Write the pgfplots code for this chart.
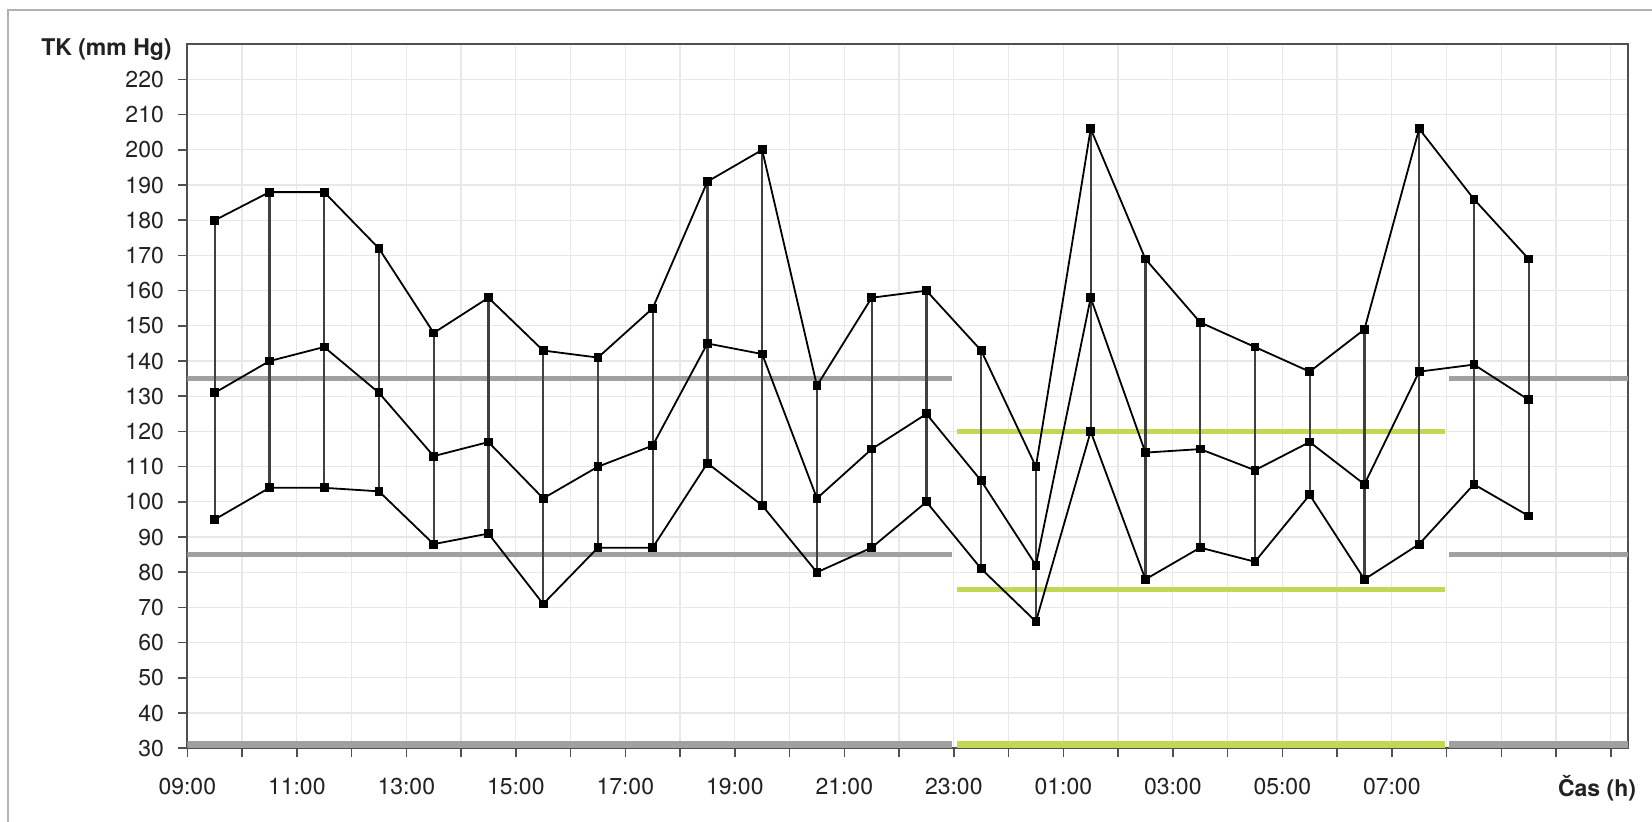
\documentclass[border=0pt]{standalone}
\usepackage{pgfplots}
\usepackage{pgfplotstable}
\pgfplotsset{compat=1.18}
\usepackage{fontspec}
\setmainfont{TeX Gyre Heros}
\definecolor{refgray}{HTML}{A0A0A0}
\definecolor{refgreen}{HTML}{C3D752}
\definecolor{gridc}{HTML}{E8E8E8}
\definecolor{axc}{HTML}{505050}
\definecolor{txt}{HTML}{222222}
\pgfplotstableread{
x s m d
9.5 180 131 95
10.5 188 140 104
11.5 188 144 104
12.5 172 131 103
13.5 148 113 88
14.5 158 117 91
15.5 143 101 71
16.5 141 110 87
17.5 155 116 87
18.5 191 145 111
19.5 200 142 99
20.5 133 101 80
21.5 158 115 87
22.5 160 125 100
23.5 143 106 81
24.5 110 82 66
25.5 206 158 120
26.5 169 114 78
27.5 151 115 87
28.5 144 109 83
29.5 137 117 102
30.5 149 105 78
31.5 206 137 88
32.5 186 139 105
33.5 169 129 96
}\bp
\begin{document}
\begin{tikzpicture}
\useasboundingbox (-93.65pt,-36.85pt) rectangle (732.35pt,374.15pt);
\draw[gray!60, line width=1.2pt] (-89.65pt,-36.85pt) -- (-89.65pt,369.15pt) -- (732.35pt,369.15pt);
\begin{axis}[
  at={(0pt,0pt)}, anchor=south west, scale only axis,
  width=720.5pt, height=352pt,
  xmin=9, xmax=35.32, ymin=30, ymax=230,
  ytick={30,40,...,220},
  xtick={9,...,35},
  xticklabels={09:00,,11:00,,13:00,,15:00,,17:00,,19:00,,21:00,,23:00,,01:00,,03:00,,05:00,,07:00,,,,,},
  xtick pos=bottom, ytick pos=left,
  grid=major, major grid style={gridc, line width=0.6pt},
  tick align=outside, major tick length=4.5pt,
  tick style={axc, line width=0.8pt},
  axis line style={axc, line width=1pt},
  ticklabel style={font=\fontsize{11.5}{12}\selectfont, text=txt},
  /pgf/number format/assume math mode=true,
  xticklabel style={yshift=-7pt},
  yticklabel style={xshift=-3.7pt},
  clip mode=individual,
  unbounded coords=jump,
]
% reference lines
\addplot[refgray, line width=2.6pt, forget plot] coordinates {(9,135) (22.97,135)};
\addplot[refgray, line width=2.6pt, forget plot] coordinates {(9,85) (22.97,85)};
\addplot[refgray, line width=2.6pt, forget plot] coordinates {(32.05,135) (35.32,135)};
\addplot[refgray, line width=2.6pt, forget plot] coordinates {(32.05,85) (35.32,85)};
\addplot[refgreen, line width=2.6pt, forget plot] coordinates {(23.05,120) (31.97,120)};
\addplot[refgreen, line width=2.6pt, forget plot] coordinates {(23.05,75) (31.97,75)};
\addplot[refgray, line width=3.4pt, forget plot] coordinates {(9,31) (22.97,31)};
\addplot[refgreen, line width=3.4pt, forget plot] coordinates {(23.05,31) (31.97,31)};
\addplot[refgray, line width=3.4pt, forget plot] coordinates {(32.05,31) (35.32,31)};
% vertical connectors
\addplot[color=black!75, line width=1.1pt, forget plot] coordinates {
(9.5,95) (9.5,180) (9.5,nan)
(10.5,104) (10.5,188) (10.5,nan)
(11.5,104) (11.5,188) (11.5,nan)
(12.5,103) (12.5,172) (12.5,nan)
(13.5,88) (13.5,148) (13.5,nan)
(14.5,91) (14.5,158) (14.5,nan)
(15.5,71) (15.5,143) (15.5,nan)
(16.5,87) (16.5,141) (16.5,nan)
(17.5,87) (17.5,155) (17.5,nan)
(18.5,111) (18.5,191) (18.5,nan)
(19.5,99) (19.5,200) (19.5,nan)
(20.5,80) (20.5,133) (20.5,nan)
(21.5,87) (21.5,158) (21.5,nan)
(22.5,100) (22.5,160) (22.5,nan)
(23.5,81) (23.5,143) (23.5,nan)
(24.5,66) (24.5,110) (24.5,nan)
(25.5,120) (25.5,206) (25.5,nan)
(26.5,78) (26.5,169) (26.5,nan)
(27.5,87) (27.5,151) (27.5,nan)
(28.5,83) (28.5,144) (28.5,nan)
(29.5,102) (29.5,137) (29.5,nan)
(30.5,78) (30.5,149) (30.5,nan)
(31.5,88) (31.5,206) (31.5,nan)
(32.5,105) (32.5,186) (32.5,nan)
(33.5,96) (33.5,169)
};
% series
\addplot[black, line width=0.9pt, mark=square*, mark size=1.75pt] table[x=x,y=s]{\bp};
\addplot[black, line width=0.9pt, mark=square*, mark size=1.75pt] table[x=x,y=m]{\bp};
\addplot[black, line width=0.9pt, mark=square*, mark size=1.75pt] table[x=x,y=d]{\bp};
\end{axis}
\node[anchor=east, font=\bfseries\fontsize{11.5}{12}\selectfont, text=txt, inner sep=0pt] at (-7.65pt,349.15pt) {TK (mm Hg)};
\node[anchor=center, font=\bfseries\fontsize{11.5}{12}\selectfont, text=txt, inner sep=0pt] at (704.85pt,-19.85pt) {Čas (h)};
\end{tikzpicture}
\end{document}
